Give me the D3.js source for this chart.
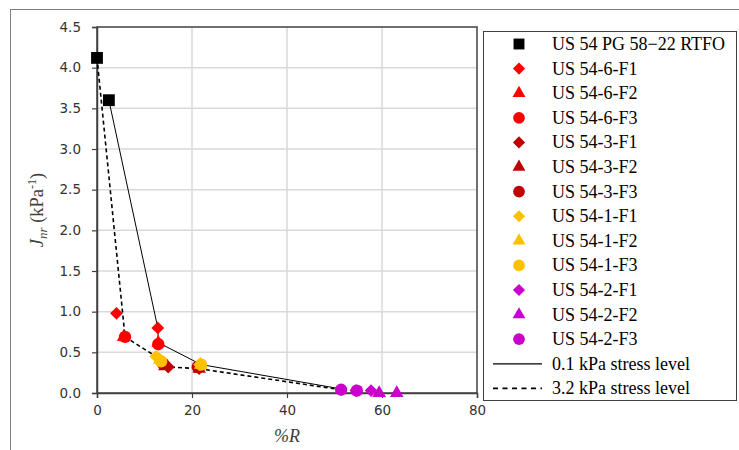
<!DOCTYPE html>
<html>
<head>
<meta charset="utf-8">
<script src="https://cdn.jsdelivr.net/npm/d3@7"></script>
<style>
  body { margin: 0; background: #fff; }
  svg { display: block; }
</style>
</head>
<body>
<div class="canva"></div>
<script>
// series data: [%R, Jnr]
const seriesNames = ["US 54 PG 58\u221222 RTFO", "US 54-6-F1", "US 54-6-F2", "US 54-6-F3",
  "US 54-3-F1", "US 54-3-F2", "US 54-3-F3", "US 54-1-F1", "US 54-1-F2", "US 54-1-F3",
  "US 54-2-F1", "US 54-2-F2", "US 54-2-F3"];
const seriesShapes = ["square", "diamond", "triangle", "circle", "diamond", "triangle", "circle",
  "diamond", "triangle", "circle", "diamond", "triangle", "circle"];
const seriesColors = ["#000000", "#ff0000", "#ff0000", "#ff0000", "#c00000", "#c00000", "#c00000",
  "#ffc000", "#ffc000", "#ffc000", "#cc00cc", "#cc00cc", "#cc00cc"];
const seriesValues = [
  [[0, 4.12], [2.5, 3.6]],
  [[4.1, 0.98], [12.8, 0.80]],
  [[5.6, 0.70], [12.9, 0.63]],
  [[5.9, 0.69], [12.9, 0.60]],
  [[15.0, 0.32], [21.5, 0.30]],
  [[14.3, 0.34], [21.5, 0.31]],
  [[13.9, 0.36], [21.2, 0.32]],
  [[12.4, 0.45], [21.6, 0.35]],
  [[13.2, 0.42], [21.8, 0.36]],
  [[13.5, 0.39], [21.9, 0.35]],
  [[54.5, 0.03], [57.7, 0.03]],
  [[59.4, 0.01], [63.1, 0.01]],
  [[51.4, 0.04], [54.7, 0.03]]
];
// trend lines per stress level
const line01 = [[2.5, 3.6], [12.8, 0.80], [12.9, 0.62], [21.9, 0.35], [51.4, 0.05]];
const line32 = [[0, 4.12], [5.9, 0.69], [13.2, 0.42], [15.0, 0.32], [21.3, 0.30], [51.4, 0.04]];

const xTicks = [0, 20, 40, 60, 80];
const yTicks = [0, 0.5, 1, 1.5, 2, 2.5, 3, 3.5, 4, 4.5];

const svg = d3.select(".canva").append("svg")
  .attr("width", 739)
  .attr("height", 450);

// outer chart frame
svg.append("rect")
  .attr("x", 10.5).attr("y", 9.5)
  .attr("width", 800).attr("height", 500)
  .attr("fill", "none").attr("stroke", "#7f7f7f").attr("stroke-width", 1);

const x = d3.scaleLinear().domain([0, 80]).range([97, 477]);
const y = d3.scaleLinear().domain([0, 4.5]).range([393, 27]);

// gridlines
svg.append("g").selectAll("line")
  .data(yTicks.slice(1, -1))
  .enter().append("line")
  .attr("x1", x(0)).attr("x2", x(80))
  .attr("y1", d => y(d)).attr("y2", d => y(d))
  .attr("stroke", "#d9d9d9").attr("stroke-width", 1.5);
svg.append("g").selectAll("line")
  .data(xTicks.slice(1, -1))
  .enter().append("line")
  .attr("y1", y(0)).attr("y2", y(4.5))
  .attr("x1", d => x(d)).attr("x2", d => x(d))
  .attr("stroke", "#d9d9d9").attr("stroke-width", 1.5);

// plot box
svg.append("rect")
  .attr("x", x(0)).attr("y", y(4.5))
  .attr("width", x(80) - x(0)).attr("height", y(0) - y(4.5))
  .attr("fill", "none").attr("stroke", "#404040").attr("stroke-width", 1.5);

// axes
const xAxis = svg.append("g")
  .attr("transform", "translate(0," + y(0) + ")")
  .call(d3.axisBottom(x).tickValues(xTicks).tickSize(5).tickPadding(7).tickFormat(d3.format("d")));
const yAxis = svg.append("g")
  .attr("transform", "translate(" + x(0) + ",0)")
  .call(d3.axisLeft(y).tickValues(yTicks).tickSize(5).tickPadding(11).tickFormat(d3.format(".1f")));
[xAxis, yAxis].forEach(a => {
  a.select(".domain").attr("stroke", "#404040").attr("stroke-width", 1.5);
  a.selectAll(".tick line").attr("stroke", "#404040").attr("stroke-width", 1.2);
  a.selectAll(".tick text")
    .attr("fill", "#333")
    .style("font-family", "'DejaVu Sans', sans-serif")
    .style("font-size", "13.5px");
});

// axis titles
svg.append("text")
  .attr("x", 287).attr("y", 442)
  .attr("text-anchor", "middle")
  .style("font-family", "'Liberation Serif', serif")
  .style("font-style", "italic")
  .style("font-size", "18px")
  .attr("fill", "#404040")
  .text("%R");

const yTitle = svg.append("text")
  .attr("transform", "translate(43,210) rotate(-90)")
  .attr("text-anchor", "middle")
  .style("font-family", "'Liberation Serif', serif")
  .style("font-size", "18.5px")
  .attr("fill", "#404040");
yTitle.append("tspan").style("font-style", "italic").text("J");
yTitle.append("tspan").style("font-style", "italic").style("font-size", "13px").attr("dy", 4).text("nr");
yTitle.append("tspan").attr("dy", -4).text(" (kPa");
yTitle.append("tspan").style("font-size", "12px").attr("dy", -7).text("-1");
yTitle.append("tspan").attr("dy", 7).text(")");

// lines
const lineGen = d3.line().x(d => x(d[0])).y(d => y(d[1]));
svg.append("path").datum(line01)
  .attr("d", lineGen).attr("fill", "none")
  .attr("stroke", "#000").attr("stroke-width", 1);
svg.append("path").datum(line32)
  .attr("d", lineGen).attr("fill", "none")
  .attr("stroke", "#000").attr("stroke-width", 1.6).attr("stroke-dasharray", "4,3");

// markers
const symbolType = { square: d3.symbolSquare, diamond: d3.symbolSquare, triangle: d3.symbolTriangle, circle: d3.symbolCircle };
const symbolSize = { square: 140, diamond: 82, triangle: 80, circle: 120 };
function marker(sel, shape, color, sizeScale) {
  sel.attr("d", d3.symbol().type(symbolType[shape]).size(symbolSize[shape] * sizeScale)())
    .attr("fill", color);
}

seriesValues.forEach((vals, i) => {
  svg.append("g").selectAll("path")
    .data(vals)
    .enter().append("path")
    .attr("transform", d => "translate(" + x(d[0]) + "," + (y(d[1]) + (seriesShapes[i] === "triangle" ? 1 : 0)) + ")" + (seriesShapes[i] === "diamond" ? " rotate(45)" : ""))
    .call(marker, seriesShapes[i], seriesColors[i], 1);
});

// legend
const legend = svg.append("g");
legend.append("rect")
  .attr("x", 483.5).attr("y", 31.5)
  .attr("width", 253).attr("height", 369)
  .attr("fill", "#fff").attr("stroke", "#404040").attr("stroke-width", 1);

const rowH = 24.6;
const legendRows = seriesNames.map((n, i) => ({ name: n, shape: seriesShapes[i], color: seriesColors[i] }))
  .concat([{ name: "0.1 kPa stress level", line: "solid" }, { name: "3.2 kPa stress level", line: "dash" }]);

legendRows.forEach((r, i) => {
  const cy = 44 + i * rowH;
  if (r.line) {
    legend.append("line")
      .attr("x1", 493).attr("x2", 542).attr("y1", cy).attr("y2", cy)
      .attr("stroke", "#000")
      .attr("stroke-width", r.line === "dash" ? 1.6 : 1.2)
      .attr("stroke-dasharray", r.line === "dash" ? "5,4.5" : null);
  } else {
    legend.append("path")
      .attr("transform", "translate(519," + cy + ")" + (r.shape === "diamond" ? " rotate(45)" : ""))
      .call(marker, r.shape, r.color, r.shape === "square" ? 0.85 : 0.9);
  }
  legend.append("text")
    .attr("x", 552).attr("y", cy + 6)
    .style("font-family", "'Liberation Serif', serif")
    .style("font-size", "18px")
    .attr("fill", "#000")
    .text(r.name);
});
</script>
</body>
</html>
